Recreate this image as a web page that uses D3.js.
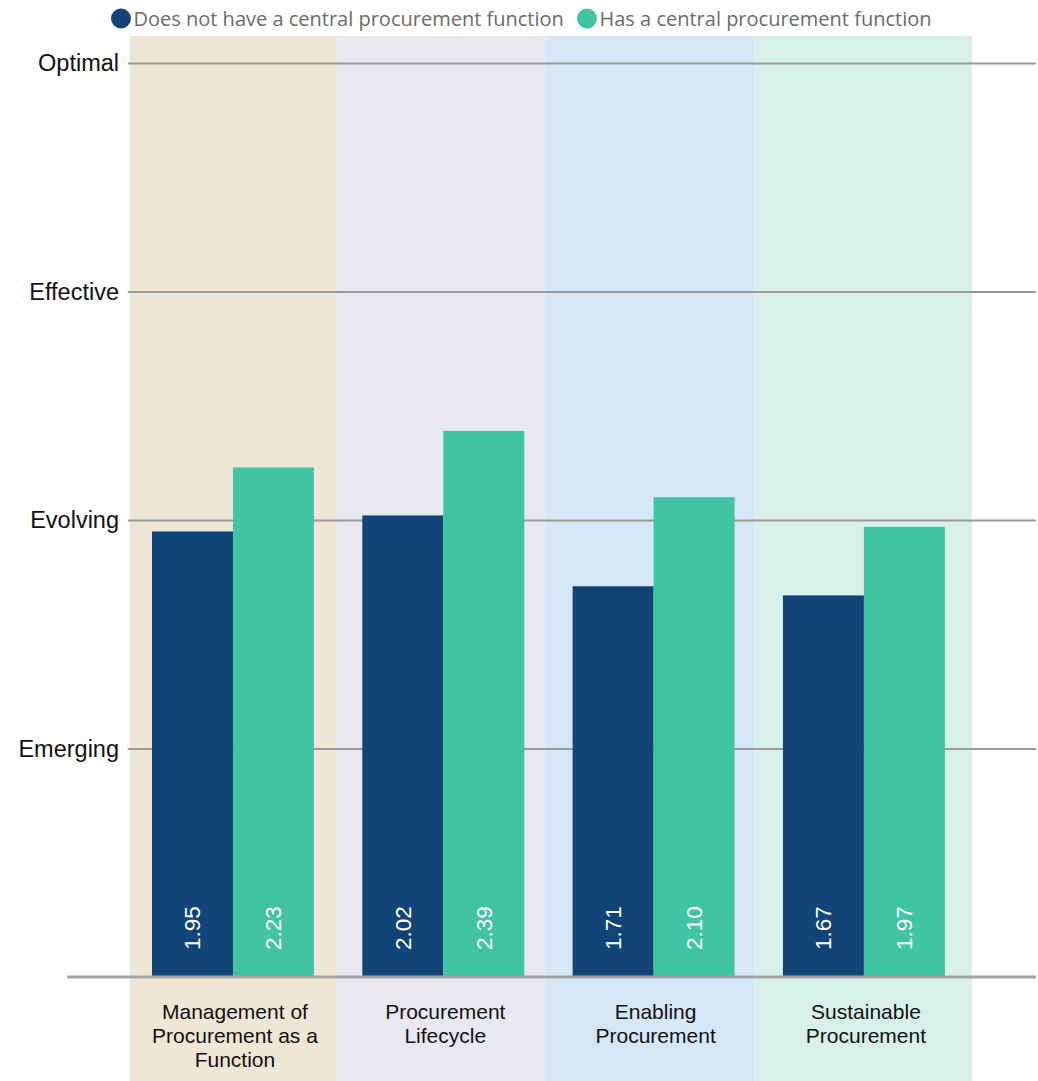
<!DOCTYPE html>
<html>
<head>
<meta charset="utf-8">
<script src="https://cdn.jsdelivr.net/npm/d3@7"></script>
<style>
  html, body { margin: 0; padding: 0; background: #ffffff; }
  svg { display: block; }
</style>
</head>
<body>
<svg id="chart" width="1038" height="1081"></svg>
<script>
// Procurement maturity scores by pillar
const categories = [
  "Management of Procurement as a Function",
  "Procurement Lifecycle",
  "Enabling Procurement",
  "Sustainable Procurement"
];
const seriesNames = [
  "Does not have a central procurement function",
  "Has a central procurement function"
];
const noCentralValues = [1.95, 2.02, 1.71, 1.67];
const centralValues = [2.23, 2.39, 2.10, 1.97];
const levelTicks = [1, 2, 3, 4];
const levelLabels = ["Emerging", "Evolving", "Effective", "Optimal"];

const seriesColors = ["#114477", "#40c4a4"];
const bandColors = ["#f0e6d6", "#e8e9ef", "#d5e6f5", "#d7f1ea"];

const svg = d3.select("#chart");
const W = 1038, H = 1081;
const baseY = 977, topY = 63;
const plotLeft = 127.8, plotRight = 969.1, gridRight = 1036;

const x = d3.scaleBand()
  .domain(categories)
  .range([plotLeft, plotRight])
  .paddingInner(0.23)
  .paddingOuter(0.115);

const xInner = d3.scaleBand()
  .domain(seriesNames)
  .range([0, x.bandwidth()]);

const y = d3.scaleLinear().domain([0, 4]).range([baseY, topY]);

const gap = x.step() - x.bandwidth();

// Background column for each pillar (edges between columns sit a little left of the gap centre)
const leftEdge = i => i === 0 ? plotLeft + 2 : x(categories[i]) - gap / 2 - 1.5 * i;
const rightEdge = i => i === categories.length - 1 ? plotRight + 3 : leftEdge(i + 1);
svg.append("g").selectAll("rect")
  .data(categories)
  .join("rect")
  .attr("x", (d, i) => leftEdge(i))
  .attr("width", (d, i) => rightEdge(i) - leftEdge(i))
  .attr("y", 36)
  .attr("height", H - 36)
  .attr("fill", (d, i) => bandColors[i]);

// Maturity level gridlines
svg.append("g")
  .attr("transform", `translate(${plotLeft},0)`)
  .call(d3.axisLeft(y)
    .tickValues(levelTicks)
    .tickSize(-(gridRight - plotLeft))
    .tickFormat(""))
  .call(g => g.select(".domain").remove())
  .call(g => g.selectAll(".tick line")
    .attr("stroke", "#9a9a9a")
    .attr("stroke-width", 2));

// Level labels
svg.append("g").selectAll("text")
  .data(levelTicks)
  .join("text")
  .attr("x", 119)
  .attr("y", d => y(d))
  .attr("dy", "0.35em")
  .attr("text-anchor", "end")
  .attr("font-family", "'Liberation Sans', Arial, sans-serif")
  .attr("font-size", 23.5)
  .attr("fill", "#111111")
  .text((d, i) => levelLabels[i]);

// Bars
const rows = categories.map((c, i) => ({
  category: c,
  values: [
    { series: seriesNames[0], value: noCentralValues[i], color: seriesColors[0] },
    { series: seriesNames[1], value: centralValues[i], color: seriesColors[1] }
  ]
}));

const groups = svg.append("g").selectAll("g")
  .data(rows)
  .join("g")
  .attr("transform", d => `translate(${x(d.category)},0)`);

groups.selectAll("rect")
  .data(d => d.values)
  .join("rect")
  .attr("x", d => xInner(d.series))
  .attr("width", xInner.bandwidth())
  .attr("y", d => y(d.value))
  .attr("height", d => y(0) - y(d.value))
  .attr("fill", d => d.color);

// Rotated value labels inside bars
groups.selectAll("text")
  .data(d => d.values)
  .join("text")
  .attr("transform", d => `translate(${xInner(d.series) + xInner.bandwidth() / 2},${baseY - 27}) rotate(-90)`)
  .attr("dy", "0.35em")
  .attr("text-anchor", "start")
  .attr("font-family", "'Liberation Sans', Arial, sans-serif")
  .attr("font-size", 22.5)
  .attr("fill", "#ffffff")
  .text(d => d.value.toFixed(2));

// Baseline
svg.append("line")
  .attr("x1", 67).attr("x2", gridRight)
  .attr("y1", baseY).attr("y2", baseY)
  .attr("stroke", "#a3a3a3")
  .attr("stroke-width", 3);

// Category labels, wrapped
const catLabels = svg.append("g").selectAll("text")
  .data(categories)
  .join("text")
  .attr("x", d => x(d) + x.bandwidth() / 2 + 2)
  .attr("y", 1019)
  .attr("text-anchor", "middle")
  .attr("font-family", "'Liberation Sans', Arial, sans-serif")
  .attr("font-size", 21)
  .attr("fill", "#111111");

catLabels.each(function(d) {
  const text = d3.select(this);
  const words = d.split(" ");
  const maxWidth = 175;
  let line = [];
  let tspan = text.append("tspan").attr("x", text.attr("x")).attr("dy", 0);
  words.forEach(w => {
    line.push(w);
    tspan.text(line.join(" "));
    if (tspan.node().getComputedTextLength() > maxWidth && line.length > 1) {
      line.pop();
      tspan.text(line.join(" "));
      line = [w];
      tspan = text.append("tspan").attr("x", text.attr("x")).attr("dy", 24).text(w);
    }
  });
});

// Legend
const legendFont = "'Segoe UI', 'Open Sans', 'Noto Sans', sans-serif";
const legendX = [121, 587];
const legend = svg.append("g").selectAll("g")
  .data(seriesNames)
  .join("g")
  .attr("transform", (d, i) => `translate(${legendX[i]},18.5)`);
legend.append("circle")
  .attr("r", 10)
  .attr("fill", (d, i) => seriesColors[i]);
legend.append("text")
  .attr("x", 12.5)
  .attr("dy", "0.35em")
  .attr("font-family", legendFont)
  .attr("font-size", 20)
  .attr("fill", "#6b6b6b")
  .text(d => d);
</script>
</body>
</html>
